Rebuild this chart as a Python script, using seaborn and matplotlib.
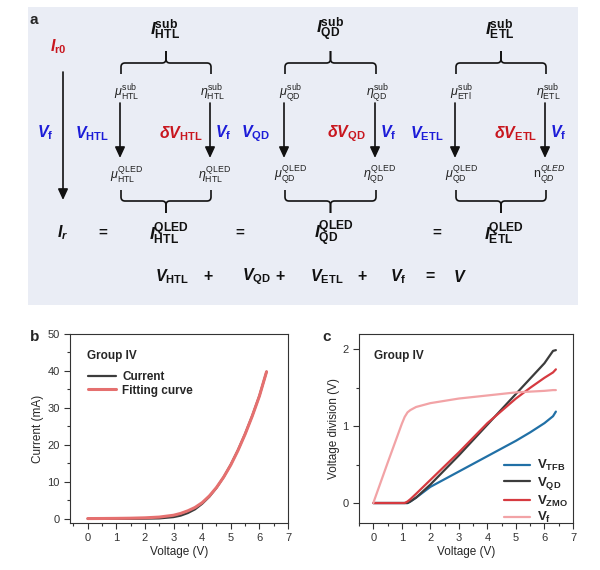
import matplotlib
matplotlib.use("Agg")
import matplotlib.pyplot as plt
from matplotlib.path import Path
from matplotlib.patches import PathPatch, Rectangle
from matplotlib.ticker import MultipleLocator
import seaborn as sns
import pandas as pd

# panel b data
volt_b = [0, 0.5, 1, 1.5, 2, 2.5, 3, 3.25, 3.5, 3.75, 4, 4.25, 4.5, 4.75, 5, 5.25, 5.5, 5.75, 6, 6.25]
current = [0.05, 0.05, 0.05, 0.05, 0.08, 0.15, 0.5, 0.9, 1.6, 2.6, 4.1, 6.0, 8.4, 11.3, 14.7, 18.6, 23.0, 27.9, 33.3, 39.8]
fitting = [0.1, 0.12, 0.15, 0.2, 0.3, 0.5, 1.0, 1.5, 2.2, 3.1, 4.4, 6.2, 8.5, 11.3, 14.6, 18.5, 22.9, 27.8, 33.2, 39.8]

# panel c data
volt_c = [0, 0.5, 1.0, 1.1, 1.2, 1.3, 1.5, 2, 2.5, 3, 3.5, 4, 4.5, 5, 5.5, 6, 6.3, 6.4]
v_tfb = [0, 0, 0, 0, 0, 0.02, 0.07, 0.21, 0.31, 0.41, 0.51, 0.61, 0.71, 0.81, 0.92, 1.04, 1.13, 1.19]
v_qd = [0, 0, 0, 0, 0, 0.02, 0.07, 0.24, 0.43, 0.62, 0.82, 1.02, 1.22, 1.42, 1.62, 1.82, 1.98, 1.99]
v_zmo = [0, 0, 0, 0, 0.02, 0.05, 0.12, 0.30, 0.48, 0.66, 0.85, 1.04, 1.20, 1.36, 1.50, 1.63, 1.70, 1.74]
v_f = [0, 0.52, 1.03, 1.12, 1.18, 1.21, 1.25, 1.30, 1.33, 1.36, 1.38, 1.40, 1.42, 1.44, 1.45, 1.46, 1.47, 1.47]

sns.set_style("ticks")
plt.rcParams['font.family'] = ['Liberation Sans', 'DejaVu Sans']
plt.rcParams['mathtext.fontset'] = 'custom'
plt.rcParams['mathtext.rm'] = 'Liberation Sans'
plt.rcParams['mathtext.sf'] = 'Liberation Sans'
plt.rcParams['mathtext.it'] = 'Liberation Sans:italic'
plt.rcParams['mathtext.bf'] = 'Liberation Sans:bold'
plt.rcParams['mathtext.bfit'] = 'Liberation Sans:bold:italic'

RED = '#c8161e'
BLUE = '#1c1cd8'
INK = '#111111'

fig = plt.figure(figsize=(6, 5.7), dpi=100)

# ---------- panel a: schematic in pixel coordinates ----------
ax0 = fig.add_axes([0, 0, 1, 1])
ax0.set_xlim(0, 600)
ax0.set_ylim(570, 0)
ax0.axis('off')
ax0.add_patch(Rectangle((28, 7), 550, 298, facecolor='#eaedf5', edgecolor='none'))


def txt(x, y, s, size=10, color=INK, **kw):
    ax0.text(x, y, s, fontsize=size, color=color, ha='center', va='center', **kw)


def arrow(x, y1, y2):
    ax0.annotate('', xy=(x, y2), xytext=(x, y1),
                 arrowprops=dict(arrowstyle='-|>,head_length=0.65,head_width=0.3',
                                 color=INK, lw=1.2, shrinkA=0, shrinkB=0))


def brace(x1, x2, y, d=1):
    # d=1: stem up, ends down ; d=-1: stem down, ends up
    xc = (x1 + x2) / 2
    h, r, s = 11 * d, 4, 12 * d
    for a, sg in ((x1, 1), (x2, -1)):
        verts = [(a, y + h), (a, y + r * d), (a, y), (a + sg * r, y),
                 (xc - sg * r, y), (xc, y), (xc, y - r * d), (xc, y - s)]
        codes = [Path.MOVETO, Path.LINETO, Path.CURVE3, Path.CURVE3,
                 Path.LINETO, Path.CURVE3, Path.CURVE3, Path.LINETO]
        ax0.add_patch(PathPatch(Path(verts, codes), facecolor='none', edgecolor=INK, lw=1.2))


ax0.text(30, 20, 'a', fontsize=11, fontweight='bold', ha='left', va='center')

# left column
txt(58, 47, r'$\mathbfit{I}_{\mathbf{r0}}$', 11.5, RED)
arrow(63, 72, 200)
txt(45, 133, r'$\mathbfit{V}_{\mathbf{f}}$', 11.5, BLUE)
txt(63, 233, r'$\mathbfit{I_r}$', 11.5)

groups = [
    # center, left x, right x, name, mu_sub, eta_sub, mu_qled, eta_qled
    (165, 120, 210, 'HTL', r'$\mu_{\mathrm{HTL}}^{\mathrm{sub}}$', r'$\eta_{\mathrm{HTL}}^{\mathrm{sub}}$',
     r'$\mu_{\mathrm{HTL}}^{\mathrm{QLED}}$', r'$\eta_{\mathrm{HTL}}^{\mathrm{QLED}}$'),
    (330, 284, 375, 'QD', r'$\mu_{\mathrm{QD}}^{\mathrm{sub}}$', r'$\eta_{\mathrm{QD}}^{\mathrm{sub}}$',
     r'$\mu_{\mathrm{QD}}^{\mathrm{QLED}}$', r'$\eta_{\mathrm{QD}}^{\mathrm{QLED}}$'),
    (500, 455, 545, 'ETL', r'$\mu_{\mathrm{ETl}}^{\mathrm{sub}}$', r'$\eta_{\mathrm{ETL}}^{\mathrm{sub}}$',
     r'$\mu_{\mathrm{QD}}^{\mathrm{QLED}}$', r'$\mathrm{n}_{QD}^{QLED}$'),
]
for xc, xl, xr, name, mus, etas, muq, etaq in groups:
    txt(xc, 30, r'$\mathbfit{I}_{\mathbf{%s}}^{\mathbf{sub}}$' % name, 12.5)
    brace(xl + 1, xr + 1, 63, 1)
    txt(xl + 7, 93, mus, 9, '#222222')
    txt(xr + 3, 93, etas, 9, '#222222')
    arrow(xl, 103, 158)
    arrow(xr, 103, 158)
    txt(xl + 7, 175, muq, 9, '#222222')
    txt(xr + 4, 175, etaq, 9, '#222222')
    brace(xl + 1, xr + 1, 201, -1)
    txt(xc + 4, 234, r'$\mathbfit{I}_{\mathbf{%s}}^{\mathbf{QLED}}$' % name, 12.5)
    txt(xl - 28, 134, r'$\mathbfit{V}_{\mathbf{%s}}$' % name, 11.5, BLUE)
    txt(xr - 29, 134, r'$\mathbfit{\delta V}_{\mathbf{%s}}$' % name, 11.5, RED)
    txt(xr + 13, 133, r'$\mathbfit{V}_{\mathbf{f}}$', 11.5, BLUE)

for x in (103, 240, 437):
    txt(x, 233, '=', 11, fontweight='bold')

eq = [(172, r'$\mathbfit{V}_{\mathbf{HTL}}$'), (208, '+'), (257, r'$\mathbfit{V}_{\mathbf{QD}}$'),
      (280, '+'), (327, r'$\mathbfit{V}_{\mathbf{ETL}}$'), (362, '+'),
      (398, r'$\mathbfit{V}_{\mathbf{f}}$'), (430, '='), (460, r'$\mathbfit{V}$')]
for x, s in eq:
    txt(x, 277, s, 11.5, fontweight='bold')

# ---------- panel b ----------
axb = fig.add_axes([70 / 600, 47 / 570, 218 / 600, 189 / 570])
df_b = pd.DataFrame({'Voltage': volt_b * 2, 'I': current + fitting,
                     'kind': ['Current'] * len(volt_b) + ['Fitting curve'] * len(volt_b)})
sns.lineplot(data=df_b, x='Voltage', y='I', hue='kind', size='kind',
             sizes={'Current': 1.6, 'Fitting curve': 2.2},
             palette={'Current': '#3c3c3c', 'Fitting curve': '#e5706f'}, ax=axb)
axb.set_xlim(-0.62, 7)
axb.set_ylim(-1.1, 50)
axb.set_xlabel('Voltage (V)', fontsize=8.5, labelpad=2)
axb.set_ylabel('Current (mA)', fontsize=8.5, labelpad=2)
axb.yaxis.set_major_locator(MultipleLocator(10))
axb.yaxis.set_minor_locator(MultipleLocator(5))
axb.text(0.08, 0.885, 'Group IV', transform=axb.transAxes, fontsize=8.5, fontweight='bold', va='center')
leg = axb.legend(loc='upper left', bbox_to_anchor=(0.06, 0.83), frameon=False, fontsize=8.5,
                 handlelength=2.4, handletextpad=0.5, labelspacing=0.15, borderaxespad=0)
for t in leg.get_texts():
    t.set_fontweight('bold')
fig.text(30 / 600, 1 - 337 / 570, 'b', fontsize=11, fontweight='bold', va='center')

# ---------- panel c ----------
axc = fig.add_axes([359 / 600, 47 / 570, 214 / 600, 189 / 570])
names = [r'$\mathbf{V_{TFB}}$', r'$\mathbf{V_{QD}}$', r'$\mathbf{V_{ZMO}}$', r'$\mathbf{V_f}$']
df_c = pd.DataFrame({'Voltage': volt_c * 4, 'V': v_tfb + v_qd + v_zmo + v_f,
                     'layer': sum([[n] * len(volt_c) for n in names], [])})
sns.lineplot(data=df_c, x='Voltage', y='V', hue='layer',
             palette=dict(zip(names, ['#2170a6', '#3c3c3c', '#d63a40', '#f2a3a6'])),
             linewidth=1.6, ax=axc)
axc.set_xlim(-0.5, 7)
axc.set_ylim(-0.26, 2.2)
axc.set_xlabel('Voltage (V)', fontsize=8.5, labelpad=2)
axc.set_ylabel('Voltage division (V)', fontsize=8.5, labelpad=2)
axc.yaxis.set_major_locator(MultipleLocator(1))
axc.yaxis.set_minor_locator(MultipleLocator(0.5))
axc.text(0.07, 0.885, 'Group IV', transform=axc.transAxes, fontsize=8.5, fontweight='bold', va='center')
axc.legend(loc='lower right', frameon=False, fontsize=9.5, handlelength=2.0,
           handletextpad=0.5, labelspacing=0.12, borderaxespad=0.0,
           bbox_to_anchor=(1.0, -0.04))
fig.text(322 / 600, 1 - 337 / 570, 'c', fontsize=11, fontweight='bold', va='center')

for ax in (axb, axc):
    ax.xaxis.set_major_locator(MultipleLocator(1))
    ax.xaxis.set_minor_locator(MultipleLocator(0.5))
    ax.tick_params(which='both', direction='out', labelsize=8, colors='#333333', width=0.8)
    ax.tick_params(which='major', length=4)
    ax.tick_params(which='minor', length=2)
    for sp in ax.spines.values():
        sp.set_visible(True)
        sp.set_linewidth(0.8)
        sp.set_color('#333333')

fig.savefig('out.png', dpi=100, facecolor='white')
